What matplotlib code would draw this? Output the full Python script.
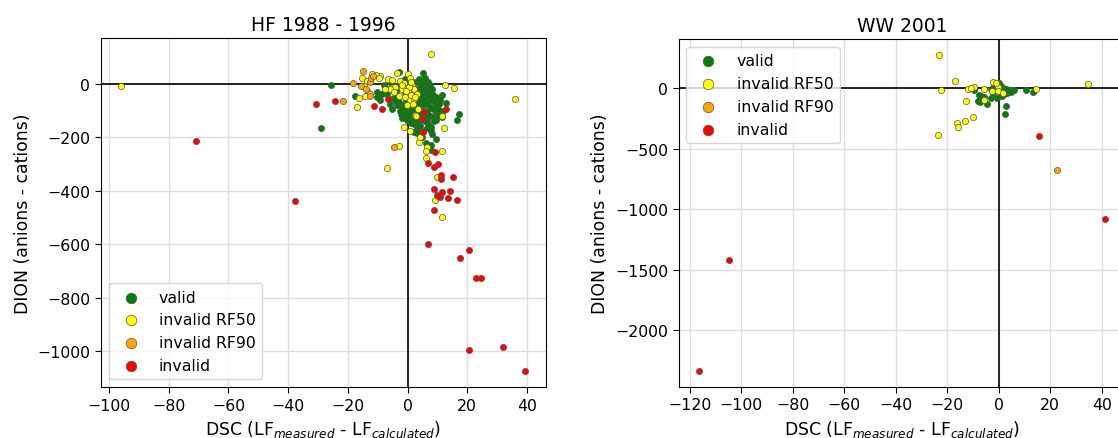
import matplotlib.pyplot as plt

# ---- HF 1988 - 1996 ----
hf_valid_x = [-25.7, -29.0, -17.7, 5.1, -2.7, 17.2, 16.7, 6.4, 7.5, 8.3, 7.0, 8.6, 9.7, 11.7, 8.1, 9.4,
              6.2, 7.8, 4.2, 3.1, 2.0, -2.2, -1.9, -5.2, -5.8, -10.2, -9.1, -3.5, -0.8, 0.9, 4.2, 5.3,
              3.7, 4.8, 5.9, 7.0, 8.6, 2.5, 3.7, 6.4, 5.3, 3.1, 1.4, -0.2, -1.3, -3.0, -4.1, -6.9,
              -8.5, -10.2, -8.0, -5.8, -2.4, -0.8, 2.0, 3.7, 5.3, 7.0, 4.2, 6.4, 8.1, 9.2, 10.3, 1.8,
              0.3, -1.3, -2.4, 4.2, 6.4, 7.5, 5.3, 6.4, 4.8, 3.1, 9.5, 10.9, 1.0, 3.0, 5.0, 2.0,
              6.0, 4.0, 0.0, -1.0, 7.0, 8.0, 5.0, 9.0, 10.0, 11.0, 12.0, 3.0, 1.0, -4.0, -6.0, -7.0,
              2.5, 4.5, 6.5, 8.5, 3.5, 5.5, 7.5, 9.5, 1.5, 0.5, 2.8, 4.6, 6.8, 8.8, 10.6, 3.8,
              5.8, 7.8, 1.2, -0.5, -2.0, -3.8, 11.5, 12.8, 4.0, 6.0, 2.2, 8.0]
hf_valid_y = [-4, -164, -44, 39, 44, -114, -135, 0, -6, -37, -69, -94, -104, -125, -187, -206,
              -221, -246, -156, -169, -150, -112, -127, -94, -75, -50, -62, -81, -94, -106, -119, -81,
              -62, -31, -19, -50, -62, -131, -144, -137, -100, -87, -125, -137, -112, -69, -50, -37,
              -37, -31, -6, 6, 0, 19, 6, 9, 9, 6, -12, -31, -19, -71, -94, -44,
              -75, -81, -100, -79, -100, -119, -119, -166, -175, -185, -137, -119, -20, -30, -45, -60,
              -75, -95, -50, -30, -150, -160, -200, -120, -80, -60, -100, -110, -90, -25, -55, -20,
              -15, -5, -25, -40, -70, -55, -85, -50, -100, -120, -135, -110, -115, -140, -75, -160,
              -140, -175, -145, -60, -90, -65, -40, -70, 18, 22, -180, -230]

hf_rf50_x = [-96.0, 7.9, 36.0, 12.4, 15.7, -16.8, -6.9, -3.0, -1.3, 0.9, 3.7, 4.2, 6.4, 6.2, 11.5, 12.1,
             6.2, 9.7, 9.2, 11.7, 11.4, 3.4, 2.5, -3.5, 0.1, 0.9, -2.4, -1.3, 1.4, 2.0, 0.3, -0.8,
             0.9, 2.0, 3.1, -1.9, -4.1, -5.8, -7.4, -6.6, -5.2, -9.1, -10.7, -11.8, -15.2, -13.5, -13.3, -14.1,
             -16.3, -9.6, -4.7, -3.0, -0.2, 1.8, 2.9, -14.6, -12.6, 0.5, 1.2, -0.6, 2.4, 1.0, -1.8]
hf_rf50_y = [-10, 111, -56, -4, -16, -85, -314, -234, -162, -175, -219, -200, -237, -250, -251, -164,
             -279, -350, -435, -497, -119, -94, -116, 40, 37, 21, 12, 2, -6, -19, -31, -50,
             -62, -56, -37, -19, -12, -19, -21, 19, 16, 31, 34, 35, 21, 9, -29, -46,
             -52, 21, -31, -44, -79, -75, -119, -9, -37, -12, -40, -25, -48, 8, -3]

hf_rf90_x = [-15.0, -18.3, -15.7, -21.5, -12.6, -12.2, -12.6, -11.5, -4.7, -14.0]
hf_rf90_y = [47, 4, -10, -64, 6, 21, -44, 29, -235, -19]

hf_inv_x = [-70.9, -37.8, -30.5, -24.4, -11.3, -8.5, -6.6, 12.8, 5.6, 4.8, 5.3, 9.3, 7.0, 8.9, 10.3, 11.1,
            11.2, 15.3, 8.9, 10.0, 10.9, 11.7, 14.2, 13.4, 16.6, 8.9, 10.3, 6.8, 20.7, 17.7, 22.9, 24.6,
            20.7, 32.1, 39.5]
hf_inv_y = [-215, -439, -77, -65, -82, -96, -56, -96, -106, -131, -181, -256, -296, -310, -301, -341,
            -356, -347, -392, -415, -425, -406, -401, -429, -435, -471, -421, -601, -620, -650, -727, -727,
            -996, -984, -1076]

# ---- WW 2001 ----
ww_valid_x = [-7.7, -7.3, -4.4, -8.1, 2.7, 2.3, 10.8, 13.5, 5.3, 4.0, 2.7, 1.0, -1.2, -3.1, -1.8, 0.8,
              1.4, -0.5, -3.1, -9.6, -7.0, 1.8, 3.4, 4.7, 6.0, 0.1, 2.0, 3.0, 0.5, -2.0, 1.5, 4.2,
              -5.5, -6.5]
ww_valid_y = [-57, -117, -131, -104, -145, -210, -16, -30, -16, -14, -3, -22, 5, -8, 33, 19,
              -63, -77, -85, -14, -68, 5, -36, -30, -14, 46, -45, -10, -35, -40, -5, -25,
              -75, -90]

ww_rf50_x = [-23.0, -17.1, -22.3, -23.6, -12.6, -9.9, -13.0, -16.1, -15.7, -11.8, -9.6, -5.5, -5.7, -2.2, -0.1, -2.5,
             -0.3, 1.8, 14.5, 34.7, -1.2, -10.9]
ww_rf50_y = [276, 60, -14, -388, -107, -235, -270, -290, -322, -3, 11, -8, -98, 52, 11, -22,
             -22, -36, -3, 38, 46, 5]

ww_rf90_x = [22.6]
ww_rf90_y = [-680]

ww_inv_x = [15.8, 41.2, -116.4, -104.7]
ww_inv_y = [-399, -1085, -2339, -1424]

labels = ["valid", "invalid RF50", "invalid RF90", "invalid"]
colors = ["#008000", "#ffff00", "#ffa500", "#ff0000"]

XLABEL = "DSC (LF$_{measured}$ - LF$_{calculated}$)"
YLABEL = "DION (anions - cations)"


def draw_panel(ax, series, title, legend_loc):
    ax.grid(True, color="#dddddd", linewidth=1.0)
    ax.set_axisbelow(True)
    ax.axhline(0, color="#222222", linewidth=1.4, zorder=1.5)
    ax.axvline(0, color="#222222", linewidth=1.4, zorder=1.5)
    for (xs, ys), label, color in zip(series, labels, colors):
        ax.scatter(xs, ys, s=20, c=color, edgecolors="#555555", linewidths=0.5,
                   label=label, zorder=2)
    ax.set_title(title, fontsize=13.5)
    ax.set_xlabel(XLABEL, fontsize=12.4)
    ax.set_ylabel(YLABEL, fontsize=12.4)
    ax.tick_params(labelsize=11.3, length=4)
    ax.legend(loc=legend_loc, fontsize=11.3, markerscale=1.7, framealpha=0.8)


fig = plt.figure(figsize=(11.18, 4.39), dpi=100)
ax1 = fig.add_axes([0.0901, 0.1155, 0.398, 0.795])
ax2 = fig.add_axes([0.6069, 0.1162, 0.3994, 0.7927])

draw_panel(ax1, [(hf_valid_x, hf_valid_y), (hf_rf50_x, hf_rf50_y),
                 (hf_rf90_x, hf_rf90_y), (hf_inv_x, hf_inv_y)],
           "HF 1988 - 1996", "lower left")
draw_panel(ax2, [(ww_valid_x, ww_valid_y), (ww_rf50_x, ww_rf50_y),
                 (ww_rf90_x, ww_rf90_y), (ww_inv_x, ww_inv_y)],
           "WW 2001", "upper left")

fig.savefig("out.png", dpi=100)
